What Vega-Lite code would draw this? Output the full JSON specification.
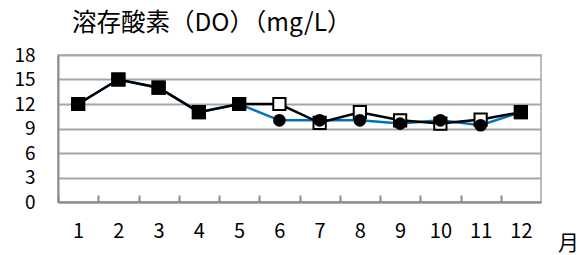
{
  "$schema": "https://vega.github.io/schema/vega-lite/v6.json",
  "autosize": "none",
  "width": 483,
  "height": 147,
  "padding": {"left": 58, "top": 55, "right": 47, "bottom": 53},
  "background": "white",
  "config": {
    "font": "Noto Sans CJK JP",
    "view": {"stroke": "#a6a6a6", "strokeWidth": 1.5}
  },
  "title": {
    "text": "溶存酸素（DO）（mg/L）",
    "anchor": "start",
    "frame": "group",
    "dx": 14,
    "offset": -9,
    "baseline": "alphabetic",
    "fontSize": 24.5,
    "fontWeight": "normal",
    "color": "black"
  },
  "data": {
    "values": [
      {"month": 1, "series": "A", "value": 12},
      {"month": 2, "series": "A", "value": 15},
      {"month": 3, "series": "A", "value": 14},
      {"month": 4, "series": "A", "value": 11},
      {"month": 5, "series": "A", "value": 12},
      {"month": 6, "series": "A", "value": 12},
      {"month": 7, "series": "A", "value": 9.7},
      {"month": 8, "series": "A", "value": 11},
      {"month": 9, "series": "A", "value": 10},
      {"month": 10, "series": "A", "value": 9.6},
      {"month": 11, "series": "A", "value": 10.1},
      {"month": 12, "series": "A", "value": 11},
      {"month": 1, "series": "B", "value": 12},
      {"month": 2, "series": "B", "value": 15},
      {"month": 3, "series": "B", "value": 14},
      {"month": 4, "series": "B", "value": 11},
      {"month": 5, "series": "B", "value": 12},
      {"month": 6, "series": "B", "value": 10},
      {"month": 7, "series": "B", "value": 10},
      {"month": 8, "series": "B", "value": 10},
      {"month": 9, "series": "B", "value": 9.6},
      {"month": 10, "series": "B", "value": 10},
      {"month": 11, "series": "B", "value": 9.4},
      {"month": 12, "series": "B", "value": 11}
    ]
  },
  "encoding": {
    "x": {
      "field": "month",
      "type": "quantitative",
      "scale": {"domain": [0.5, 12.5], "nice": false, "zero": false},
      "axis": {
        "values": [1, 2, 3, 4, 5, 6, 7, 8, 9, 10, 11, 12],
        "title": "月",
        "titleX": 510,
        "titleY": 41,
        "titleAlign": "center",
        "titleBaseline": "middle",
        "titleFontSize": 21,
        "titleFontWeight": "normal",
        "titleColor": "black",
        "grid": false,
        "domainColor": "#8c8c8c",
        "domainWidth": 2,
        "tickColor": "#8c8c8c",
        "tickWidth": 2,
        "tickSize": -7,
        "tickOffset": -20.125,
        "labelOffset": 20.125,
        "labelPadding": 36,
        "labelFontSize": 20,
        "labelColor": "black",
        "labelBaseline": "middle"
      }
    },
    "y": {
      "field": "value",
      "type": "quantitative",
      "scale": {"domain": [0, 18], "nice": false},
      "axis": {
        "values": [0, 3, 6, 9, 12, 15, 18],
        "title": null,
        "grid": true,
        "gridColor": "#a6a6a6",
        "gridWidth": 2,
        "domainColor": "#8c8c8c",
        "domainWidth": 2,
        "ticks": false,
        "labelPadding": 23,
        "labelFontSize": 19,
        "labelColor": "black"
      }
    }
  },
  "layer": [
    {
      "transform": [{"filter": "datum.series === 'B'"}],
      "mark": {"type": "line", "color": "#0070C0", "strokeWidth": 2.5}
    },
    {
      "transform": [{"filter": "datum.series === 'A'"}],
      "mark": {"type": "line", "color": "black", "strokeWidth": 2.5}
    },
    {
      "transform": [{"filter": "datum.series === 'A'"}],
      "mark": {"type": "point", "shape": "square", "size": 150, "fill": "white", "stroke": "black", "strokeWidth": 2, "opacity": 1}
    },
    {
      "transform": [{"filter": "datum.series === 'B'"}],
      "mark": {"type": "point", "shape": "circle", "size": 160, "filled": true, "color": "black", "opacity": 1}
    },
    {
      "transform": [{"filter": "datum.series === 'A'"}, {"filter": {"field": "month", "oneOf": [1, 2, 3, 4, 5, 12]}}],
      "mark": {"type": "point", "shape": "square", "size": 196, "filled": true, "color": "black", "opacity": 1}
    }
  ]
}
